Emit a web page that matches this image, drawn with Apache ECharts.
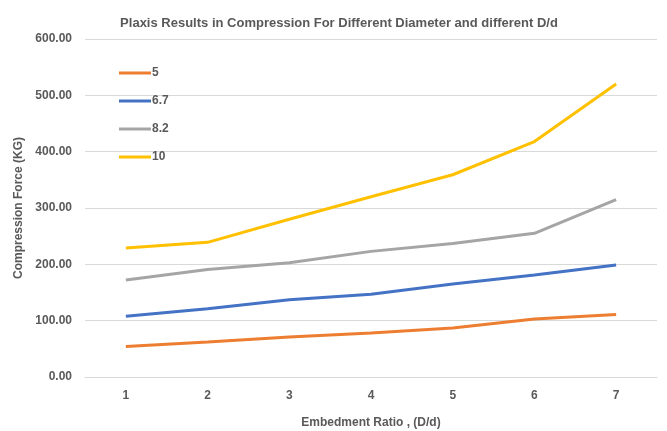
<!DOCTYPE html>
<html>
<head>
<meta charset="utf-8">
<script src="https://cdn.jsdelivr.net/npm/echarts@6/dist/echarts.min.js"></script>
<style>
  html, body { margin: 0; padding: 0; background: #fff; }
  #chart { width: 667px; height: 431px; }
</style>
</head>
<body>
<div id="chart"></div>
<script>
var ratios = ["1", "2", "3", "4", "5", "6", "7"];
var seriesNames = ["5", "6.7", "8.2", "10"];
var d5 = [54, 62, 71, 78, 87, 103, 111];
var d67 = [108, 121, 137, 147, 165, 181, 199];
var d82 = [172, 191, 203, 223, 237, 255, 315];
var d10 = [229, 239, 280, 320, 359, 418, 520];
var yTicks = [0, 100, 200, 300, 400, 500, 600];

var colors = ["#ED7D31", "#4472C4", "#A5A5A5", "#FFC000"];
var font = "'Liberation Sans Narrow', 'Liberation Sans', sans-serif";

var chart = echarts.init(document.getElementById("chart"));
var values = [d5, d67, d82, d10];

chart.setOption({
  animation: false,
  color: colors,
  title: {
    text: "Plaxis Results in Compression For Different Diameter and different D/d",
    left: 334,
    textAlign: "center",
    top: 12,
    textStyle: { fontFamily: font, fontSize: 13, fontWeight: "bold", color: "#595959" }
  },
  legend: {
    orient: "vertical",
    left: 114,
    top: 61,
    itemWidth: 32,
    itemHeight: 14,
    itemGap: 14,
    data: seriesNames.map(function (n, i) {
      return { name: n, icon: "path://M0,0 L32,0 L32,3 L0,3 Z", itemStyle: { color: colors[i] } };
    }),
    textStyle: { fontFamily: font, fontSize: 12, fontWeight: "bold", color: "#595959", padding: [0, 0, 0, -4], height: 14, lineHeight: 14 }
  },
  grid: { left: 85, right: 10, top: 39, bottom: 54, outerBoundsMode: "none" },
  xAxis: {
    type: "category",
    data: ratios,
    boundaryGap: true,
    name: "Embedment Ratio , (D/d)",
    nameLocation: "middle",
    nameGap: 40,
    nameTextStyle: { fontFamily: font, fontSize: 12, fontWeight: "bold", color: "#595959" },
    axisLine: { lineStyle: { color: "#d9d9d9", width: 1 } },
    axisTick: { show: false },
    axisLabel: { margin: 13, fontFamily: font, fontSize: 12, fontWeight: "bold", color: "#595959" }
  },
  yAxis: {
    type: "value",
    min: yTicks[0],
    max: yTicks[yTicks.length - 1],
    interval: 100,
    name: "Compression Force (KG)",
    nameLocation: "middle",
    nameGap: 55,
    nameTextStyle: { fontFamily: font, fontSize: 12, fontWeight: "bold", color: "#595959" },
    axisLine: { show: false },
    axisTick: { show: false },
    splitLine: { lineStyle: { color: "#d9d9d9", width: 1 } },
    axisLabel: {
      margin: 13,
      fontFamily: font, fontSize: 12, fontWeight: "bold", color: "#595959",
      formatter: function (v) { return v.toFixed(2); }
    }
  },
  series: values.map(function (arr, i) {
    return {
      name: seriesNames[i],
      type: "line",
      data: arr,
      symbol: "none",
      lineStyle: { width: 3, color: colors[i] }
    };
  })
});
</script>
</body>
</html>
